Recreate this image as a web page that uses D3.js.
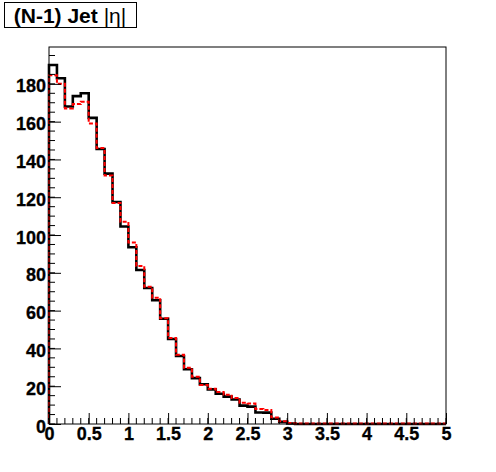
<!DOCTYPE html>
<html><head><meta charset="utf-8">
<script src="https://cdn.jsdelivr.net/npm/d3@7"></script>
<style>body{margin:0;background:#fff;} svg{display:block;}</style>
</head><body>
<script>
const binWidth = 0.1;
const xTickLabels = ["0","0.5","1","1.5","2","2.5","3","3.5","4","4.5","5"];
const yTickLabels = ["0","20","40","60","80","100","120","140","160","180"];
const blackValues = [190, 183, 168, 173.5, 175, 162, 145.5, 132.5, 117.5, 104.5,
  93.5, 81.5, 72, 65.5, 55.7, 45, 36, 29, 24.3, 21,
  18.3, 16, 14.5, 13, 9.7, 9.2, 6.1, 6.0, 2.8, 1.1,
  0.3, 0, 0, 0, 0, 0, 0, 0, 0, 0,
  0, 0, 0, 0, 0, 0, 0, 0, 0, 0];
const redValues = [184.5, 180, 167, 169.3, 170.5, 159, 146, 131.5, 117, 107,
  96, 83.6, 72.6, 66.8, 56, 45.5, 36.7, 29.8, 25, 20.6,
  18.7, 16.9, 15.5, 13.8, 11.3, 10.9, 7.9, 7.4, 3.4, 1.4,
  0.5, 0.2, 0.2, 0.2, 0.2, 0.2, 0.2, 0.2, 0.2, 0.2,
  0.2, 0.2, 0.2, 0.2, 0.2, 0.2, 0.2, 0.2, 0.2, 0.2];
const titleText = "(N-1) Jet ";
const titleSymbol = "|η|";

const W = 496, H = 472;
const margin = {left: 49, right: 50, top: 47, bottom: 48};
const svg = d3.select("body").append("svg").attr("width", W).attr("height", H);
svg.append("rect").attr("width", W).attr("height", H).attr("fill", "#fff");

const x = d3.scaleLinear().domain([0, 5]).range([margin.left, W - margin.right]);
const y = d3.scaleLinear().domain([0, 199.5]).range([H - margin.bottom, margin.top]);

function histPoints(vals) {
  const pts = [[0, 0]];
  vals.forEach((v, i) => { pts.push([i * binWidth, v]); pts.push([(i + 1) * binWidth, v]); });
  pts.push([vals.length * binWidth, 0]);
  return pts;
}
const line = d3.line().x(d => x(d[0])).y(d => y(d[1]));

const plot = svg.append("g");
plot.append("path").attr("d", line(histPoints(blackValues)))
  .attr("fill", "none").attr("stroke", "#000").attr("stroke-width", 2.6).attr("stroke-linejoin", "miter");
plot.append("path").attr("d", line(histPoints(redValues)))
  .attr("fill", "none").attr("stroke", "#ff0000").attr("stroke-width", 2).attr("stroke-dasharray", "4,2");

// frame
svg.append("rect").attr("x", x(0)).attr("y", y(199.5)).attr("width", x(5) - x(0)).attr("height", y(0) - y(199.5))
  .attr("fill", "none").attr("stroke", "#000").attr("stroke-width", 1);

const font = "'Liberation Sans', Arial, Helvetica, sans-serif";

// X axis
const xAxis = d3.axisBottom(x)
  .tickValues(xTickLabels.map(Number))
  .tickFormat((d, i) => xTickLabels[i])
  .tickSizeInner(-11).tickSizeOuter(0).tickPadding(3);
const gx = svg.append("g").attr("transform", `translate(0,${y(0)})`).call(xAxis);
gx.select(".domain").remove();
gx.selectAll("text").attr("font-family", font).attr("font-weight", "bold").attr("font-size", 18).attr("fill", "#000")
  .attr("stroke", "#000").attr("stroke-width", 0.3);
gx.selectAll("line").attr("stroke", "#000");
const xMinor = d3.range(0, 51).map(i => i * binWidth);
svg.append("g").selectAll("line").data(xMinor).join("line")
  .attr("x1", d => x(d)).attr("x2", d => x(d)).attr("y1", y(0)).attr("y2", y(0) - 6).attr("stroke", "#000");

// Y axis
const yAxis = d3.axisLeft(y)
  .tickValues(yTickLabels.map(Number))
  .tickFormat((d, i) => yTickLabels[i])
  .tickSizeInner(-12).tickSizeOuter(0).tickPadding(3);
const gy = svg.append("g").attr("transform", `translate(${x(0)},0)`).call(yAxis);
gy.select(".domain").remove();
gy.selectAll("text").attr("font-family", font).attr("font-weight", "bold").attr("font-size", 18).attr("fill", "#000")
  .attr("stroke", "#000").attr("stroke-width", 0.3).attr("dy", "0.45em");
gy.selectAll("line").attr("stroke", "#000");
const yMinor = d3.range(0, 40).map(i => i * 5);
svg.append("g").selectAll("line").data(yMinor).join("line")
  .attr("x1", x(0)).attr("x2", x(0) + 6).attr("y1", d => y(d)).attr("y2", d => y(d)).attr("stroke", "#000");

// Title box
svg.append("rect").attr("x", 4.5).attr("y", 2.5).attr("width", 132).attr("height", 25)
  .attr("fill", "#fff").attr("stroke", "#000").attr("stroke-width", 1);
const t = svg.append("text").attr("x", 70).attr("y", 23).attr("text-anchor", "middle")
  .attr("font-family", font).attr("font-size", 21).attr("fill", "#000");
t.append("tspan").attr("font-weight", "bold").text(titleText);
t.append("tspan").attr("font-weight", "normal").text(titleSymbol);
</script>
</body></html>
